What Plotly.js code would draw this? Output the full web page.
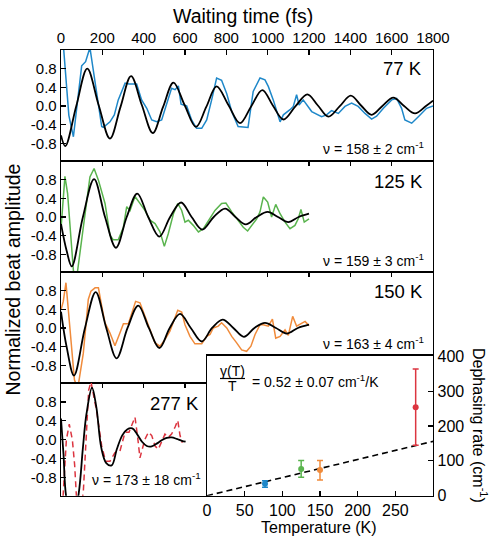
<!DOCTYPE html>
<html>
<head>
<meta charset="utf-8">
<script src="https://cdn.plot.ly/plotly-3.0.1.min.js"></script>
<style>html,body{margin:0;padding:0;background:#fff;}#chart{width:490px;height:540px;}</style>
</head>
<body>
<div id="chart"></div>
<script>
// ---------- Data ----------
// 77 K
const t77 = [8,38,60,100,119,140,197,205,237,258,277,310,329,366,390,415,439,463,487,511,535,552,568,581,608,632,656,681,705,729,753,777,802,826,857,905,930,963,987,1003,1027,1060,1076,1108,1124,1140,1152,1172,1213,1261,1285,1309,1342,1374,1406,1438,1471,1503,1527,1560,1600,1624,1648,1664,1697,1729,1769,1800];
const v77 = [1.5,-0.2,-0.66,0.86,0.95,1.25,-0.44,-0.46,-0.34,-0.19,0.13,0.49,0.47,0.47,0.13,-0.05,-0.30,-0.34,-0.30,0.02,0.38,0.35,0.43,0.04,0.0,-0.30,-0.48,-0.48,-0.30,0.13,0.60,0.55,0.26,-0.12,-0.44,-0.46,0.31,0.60,0.56,0.42,0.13,-0.34,-0.19,-0.08,-0.01,0.24,0.02,0.13,-0.12,-0.23,-0.19,-0.10,-0.16,-0.01,0.06,-0.01,-0.16,-0.28,-0.22,-0.05,0.13,0.16,-0.05,-0.30,-0.37,-0.23,-0.05,0.0];
const fitT77 = [0,21,74,127,182,237,288,339,391,444,494,544,598,653,703,753,810,866,920,974,1025,1076,1134,1192,1243,1294,1348,1402,1452,1503,1555,1608,1660,1713,1766,1800];
const fitV77 = [-0.63,-0.86,0.0,0.80,0.02,-0.70,-0.02,0.64,0.02,-0.58,-0.02,0.50,0.02,-0.45,-0.02,0.42,0.02,-0.37,-0.01,0.34,0.01,-0.29,-0.01,0.25,0.01,-0.23,-0.01,0.22,0.01,-0.19,0.0,0.18,0.0,-0.16,0.0,0.115];

// 125 K
const t125 = [0,19,32,44,60,76,140,160,181,213,237,253,277,302,318,334,358,382,406,431,455,479,500,519,544,565,584,600,616,640,665,689,713,745,777,798,826,858,882,903,923,947,963,979,1000,1019,1039,1060,1084,1108,1132,1148,1161,1177,1200];
const v125 = [-0.25,0.87,0.5,-0.22,-1.15,-1.3,0.86,1.04,0.79,0.29,-0.39,-0.49,-0.49,-0.22,0.22,0.14,0.44,0.29,0.14,-0.07,-0.14,-0.32,-0.63,-0.36,0.07,0.29,0.14,-0.11,-0.07,-0.18,-0.32,-0.25,-0.07,0.14,0.29,0.30,0.11,-0.07,-0.22,-0.30,-0.18,-0.04,0.11,0.43,0.32,0.0,0.27,0.07,-0.11,-0.25,-0.18,-0.04,0.16,-0.11,-0.04];
const fitT125 = [0,27,52,106,160,213,266,318,369,422,476,528,581,632,684,739,794,844,894,947,1000,1050,1100,1150,1200];
const fitV125 = [-0.15,-0.72,-1.06,0.0,0.81,0.0,-0.66,0.0,0.50,0.0,-0.42,0.0,0.31,0.0,-0.27,0.0,0.18,0.0,-0.16,0.0,0.11,0.0,-0.11,0.0,0.07];

// 150 K
const t150 = [0,11,24,39,52,65,81,108,132,145,165,181,197,213,237,261,285,302,326,342,361,382,406,431,455,479,503,527,548,565,584,600,624,648,681,705,721,737,761,777,802,826,850,874,898,919,939,963,979,1003,1023,1039,1060,1084,1100,1121,1140,1165,1181,1200];
const v150 = [0.39,0.57,0.97,0.18,-0.61,-1.11,-1.3,-0.54,0.61,0.79,0.86,0.86,0.47,0.11,-0.11,-0.38,-0.11,0.09,0.09,0.32,0.57,0.54,0.25,-0.07,-0.32,-0.39,-0.25,-0.07,0.18,0.38,0.34,0.07,-0.18,-0.34,-0.34,-0.18,-0.14,0.0,0.04,0.11,0.0,-0.18,-0.32,-0.47,-0.50,-0.39,-0.14,0.07,0.07,0.04,0.19,-0.22,-0.18,-0.04,-0.16,0.25,0.04,0.11,0.14,0.05];
const fitT150 = [0,27,63,116,168,219,269,322,374,425,476,526,576,628,681,731,782,834,885,936,987,1040,1092,1146,1200];
const fitV150 = [0.35,-0.40,-1.02,0.0,0.77,0.0,-0.65,0.0,0.48,0.0,-0.43,0.0,0.30,0.0,-0.29,0.0,0.18,0.0,-0.19,0.0,0.11,0.0,-0.12,0.0,0.07];

// 277 K
const t277 = [0,10,26,40,55,66,76,92,108,123,134,145,173,197,216,237,261,285,310,329,358,371,382,406,423,439,455,471,487,503,519,535,552,565,576,587];
const v277 = [-1.4,-1.2,0.0,0.33,0.0,-0.53,-1.3,-1.6,-1.1,0.19,1.05,1.23,0.59,-0.13,-0.45,-0.45,-0.27,-0.24,0.16,0.16,0.48,0.05,-0.38,0.01,0.16,0.09,-0.13,-0.20,-0.02,0.12,0.05,0.12,0.27,0.41,0.09,-0.06];
const fitT277 = [0,12,25,55,85,106,123,150,171,195,219,245,270,297,320,345,368,392,415,439,463,487,512,535,560,585,603];
const fitV277 = [0.45,-0.3,-1.2,-1.75,-1.15,-0.17,0.54,1.1,0.69,-0.17,-0.49,-0.54,-0.2,0.1,0.22,0.24,0.12,-0.04,-0.13,-0.14,-0.08,-0.01,0.04,0.05,0.02,-0.02,-0.04];

// Inset: dephasing rate vs temperature
const temps = [77, 125, 150, 277];
const rates = [34, 77, 74, 254];
const errUp = [9, 24, 27, 110];
const errDown = [10, 24, 29, 109];
const dephFitT = [0, 300];
const dephFitY = [0, 156];

const timeTicks = [0,200,400,600,800,1000,1200,1400,1600,1800];
const ampTicks = [-0.8,-0.4,0.0,0.4,0.8];
const ampTickText = ['-0.8','-0.4','0.0','0.4','0.8'];
const tempTicks = [0,50,100,150,200,250];
const rateTicks = [0,100,200,300,400];

const panelLabels = ['77 K','125 K','150 K','277 K'];
const nuLabels = ['\u03bd = 158 \u00b1 2 cm<sup>-1</sup>','\u03bd = 159 \u00b1 3 cm<sup>-1</sup>','\u03bd = 163 \u00b1 4 cm<sup>-1</sup>','\u03bd = 173 \u00b1 18 cm<sup>-1</sup>'];
const colors = ['#1f88c9','#5ab44e','#f08b3b','#dc3540'];

// ---------- Layout helpers ----------
const W = 490, H = 540;
const px = x => x / W;
const py = y => 1 - y / H;
const FONT = 'Liberation Sans, Arial, Helvetica, sans-serif';

const xL = 61, xR = 433;
const panelTops = [50, 161, 272, 383];
const panelBots = [161, 272, 383, 495.7];

const traces = [];
const dataSets = [[t77,v77,fitT77,fitV77],[t125,v125,fitT125,fitV125],[t150,v150,fitT150,fitV150],[t277,v277,fitT277,fitV277]];
dataSets.forEach((d, i) => {
  const ax = i === 0 ? '' : String(i + 1);
  traces.push({x: d[0], y: d[1], xaxis: 'x' + ax, yaxis: 'y' + ax, mode: 'lines', type: 'scatter',
    line: {color: colors[i], width: 1.5, dash: i === 3 ? '6px,4px' : 'solid'}, hoverinfo: 'skip', showlegend: false});
  traces.push({x: d[2], y: d[3], xaxis: 'x' + ax, yaxis: 'y' + ax, mode: 'lines', type: 'scatter',
    line: {color: '#000', width: 1.8, shape: 'spline', smoothing: 1}, hoverinfo: 'skip', showlegend: false});
});

// inset
traces.push({x: dephFitT, y: dephFitY, xaxis: 'x5', yaxis: 'y5', mode: 'lines', type: 'scatter',
  line: {color: '#000', width: 1.6, dash: '6px,4px'}, hoverinfo: 'skip', showlegend: false});
temps.forEach((T, i) => {
  traces.push({x: [T], y: [rates[i]], xaxis: 'x5', yaxis: 'y5', mode: 'markers', type: 'scatter',
    marker: {color: colors[i], size: 6},
    error_y: {type: 'data', symmetric: false, array: [errUp[i]], arrayminus: [errDown[i]], color: colors[i], thickness: 1.5, width: 3},
    hoverinfo: 'skip', showlegend: false});
});

const layout = {
  width: W, height: H,
  margin: {l: 0, r: 0, t: 0, b: 0},
  paper_bgcolor: '#fff', plot_bgcolor: '#fff',
  font: {family: FONT, color: '#000', size: 15},
  showlegend: false,
  annotations: [],
  shapes: []
};

const xMaxes = [1800, 1800, 1800, (207 - xL) / ((xR - xL) / 1800)];
for (let i = 0; i < 4; i++) {
  const ax = i === 0 ? '' : String(i + 1);
  const right = i === 3 ? 207 : xR;
  layout['xaxis' + ax] = {
    domain: [px(xL), px(right)], range: [0, xMaxes[i]], anchor: 'y' + ax, side: 'top',
    tickvals: timeTicks, ticks: 'inside', ticklen: 5, tickwidth: 1.2, tickcolor: '#000',
    showticklabels: i === 0, tickfont: {size: 15, family: FONT},
    showline: true, mirror: true, linecolor: '#000', linewidth: 1.3,
    showgrid: false, zeroline: false, fixedrange: true
  };
  layout['yaxis' + ax] = {
    domain: [py(panelBots[i]), py(panelTops[i])], range: [-1.18, 1.2], anchor: 'x' + ax,
    tickvals: ampTicks, ticktext: ampTickText, ticks: 'inside', ticklen: 5, tickwidth: 1.2, tickcolor: '#000',
    tickfont: {size: 15, family: FONT},
    showline: true, mirror: true, linecolor: '#000', linewidth: 1.3,
    showgrid: false, zeroline: false, fixedrange: true
  };
}
layout.xaxis5 = {
  domain: [px(207), px(xR)], range: [0, 300], anchor: 'y5',
  tickvals: tempTicks, ticks: 'inside', ticklen: 5, tickwidth: 1.2, tickcolor: '#000',
  tickfont: {size: 16, family: FONT},
  showline: true, mirror: true, linecolor: '#000', linewidth: 1.3,
  showgrid: false, zeroline: false, fixedrange: true
};
layout.yaxis5 = {
  domain: [py(495.7), py(355.7)], range: [0, 402], anchor: 'x5', side: 'right',
  tickvals: rateTicks, ticks: 'inside', ticklen: 5, tickwidth: 1.2, tickcolor: '#000',
  tickfont: {size: 16, family: FONT},
  showline: true, mirror: true, linecolor: '#000', linewidth: 1.3,
  showgrid: false, zeroline: false, fixedrange: true
};

function ann(text, x, y, size, opts) {
  layout.annotations.push(Object.assign({
    text: text, x: px(x), y: py(y), xref: 'paper', yref: 'paper',
    showarrow: false, xanchor: 'center', yanchor: 'middle',
    font: {family: FONT, size: size, color: '#000'}
  }, opts || {}));
}

ann('Waiting time (fs)', 242.5, 16, 19.5);
ann('Normalized beat amplitude', 12.5, 280, 19.5, {textangle: -90});
ann('Dephasing rate (cm<sup>-1</sup>)', 480, 425, 16, {textangle: 90});
ann('Temperature (K)', 318.5, 527.5, 16);

const labelRight = [424, 425, 425, 201];
const labelY = [68.5, 181, 291.5, 403.5];
const nuRight = [426, 426, 426, 203];
const nuY = [147.5, 260, 343, 479];
for (let i = 0; i < 4; i++) {
  ann(panelLabels[i], labelRight[i], labelY[i], 18.5, {xanchor: 'right'});
  ann(nuLabels[i], nuRight[i], nuY[i], 14, {xanchor: 'right'});
}

ann('\u03b3(T)', 232.5, 371, 14);
ann('T', 232.5, 386, 14);
ann('= 0.52 \u00b1 0.07 cm<sup>-1</sup>/K', 250, 380.5, 14, {xanchor: 'left'});
layout.shapes.push({type: 'line', xref: 'paper', yref: 'paper', x0: px(220), x1: px(245), y0: py(378.5), y1: py(378.5),
  line: {color: '#000', width: 1.2}});

Plotly.newPlot('chart', traces, layout, {staticPlot: true, displayModeBar: false});
</script>
</body>
</html>
